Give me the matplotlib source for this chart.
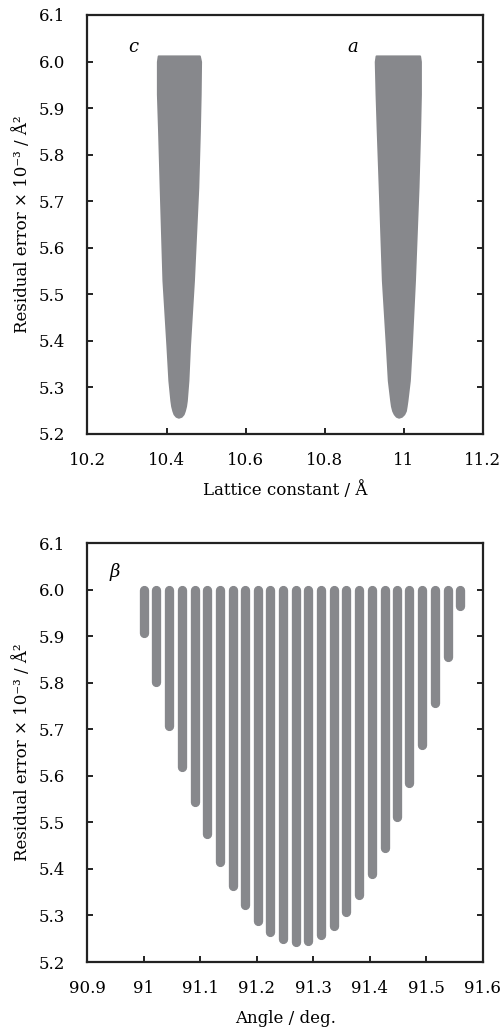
import numpy as np
import matplotlib
matplotlib.use("Agg")
import matplotlib.pyplot as plt
from matplotlib.ticker import MultipleLocator, FormatStrFormatter, FuncFormatter

# ---------- data --------------------------------------------------------------
# funnel outlines of the lattice-constant scatter (y, left edge, right edge)
funnel_y = [6.012, 6.00, 5.93, 5.85, 5.73, 5.53, 5.39, 5.315, 5.272, 5.260, 5.250, 5.243, 5.238, 5.236]
c_left = [10.379, 10.377, 10.377, 10.380, 10.384, 10.391, 10.401, 10.406, 10.411, 10.413, 10.416, 10.419, 10.424, 10.430]
c_right = [10.483, 10.486, 10.485, 10.483, 10.479, 10.468, 10.458, 10.454, 10.450, 10.448, 10.445, 10.442, 10.437, 10.430]
a_left = [10.930, 10.928, 10.930, 10.933, 10.938, 10.946, 10.956, 10.961, 10.967, 10.969, 10.972, 10.976, 10.981, 10.987]
a_right = [11.040, 11.042, 11.042, 11.040, 11.036, 11.027, 11.019, 11.014, 11.008, 11.006, 11.004, 11.000, 10.994, 10.987]

# beta angle bars
beta_x = [91.000, 91.022, 91.045, 91.067, 91.090, 91.112, 91.134, 91.157, 91.179,
          91.202, 91.224, 91.246, 91.269, 91.291, 91.314, 91.336, 91.358, 91.381,
          91.403, 91.426, 91.448, 91.470, 91.493, 91.515, 91.538, 91.560]
beta_low = [5.906, 5.801, 5.706, 5.620, 5.543, 5.475, 5.415, 5.364, 5.322,
            5.289, 5.264, 5.249, 5.244, 5.246, 5.258, 5.278, 5.307, 5.343,
            5.390, 5.446, 5.511, 5.584, 5.666, 5.756, 5.856, 5.965]
beta_top = 6.0

GRAY = "#87888c"
YLABEL = "Residual error × 10⁻³ / Å²"

plt.rcParams["font.family"] = ["DejaVu Serif"]
plt.rcParams["font.size"] = 12


def style_axes(ax, xlim, xstep):
    ax.set_xlim(*xlim)
    ax.set_ylim(5.2, 6.1)
    ax.xaxis.set_major_locator(MultipleLocator(xstep))
    ax.yaxis.set_major_locator(MultipleLocator(0.1))
    ax.xaxis.set_major_formatter(FuncFormatter(lambda v, _: f"{round(v, 3):g}"))
    ax.yaxis.set_major_formatter(FormatStrFormatter("%.1f"))
    ax.tick_params(axis="both", direction="in", length=4.5, width=1.4, color="#222222")
    ax.tick_params(axis="x", top=False, pad=13)
    ax.tick_params(axis="y", right=True, pad=16)
    for sp in ax.spines.values():
        sp.set_linewidth(1.6)
        sp.set_color("#222222")
    ax.set_ylabel(YLABEL, labelpad=6)


fig = plt.figure(figsize=(5.04, 10.32), dpi=100)

# ---- top: lattice constants ----
ax1 = fig.add_axes([0.1735, 0.5795, 0.7845, 0.406])
for left, right in ((c_left, c_right), (a_left, a_right)):
    ax1.fill_betweenx(funnel_y, left, right, facecolor=GRAY, edgecolor=GRAY,
                      linewidth=1.5, joinstyle="round")
ax1.text(10.316, 6.031, "c", style="italic", fontsize=13, ha="center", va="center")
ax1.text(10.871, 6.031, "a", style="italic", fontsize=13, ha="center", va="center")
style_axes(ax1, (10.2, 11.2), 0.2)
ax1.set_xlabel("Lattice constant / Å", labelpad=9)

# ---- bottom: beta angle ----
ax2 = fig.add_axes([0.1735, 0.0678, 0.7845, 0.406])
ax2.vlines(beta_x, beta_low, beta_top, colors=GRAY, linewidth=6.7, capstyle="round")
ax2.text(90.949, 6.038, "β", style="italic", fontsize=13, ha="center", va="center")
style_axes(ax2, (90.9, 91.6), 0.1)
ax2.set_xlabel("Angle / deg.", labelpad=9)

fig.savefig("out.png", dpi=100)
